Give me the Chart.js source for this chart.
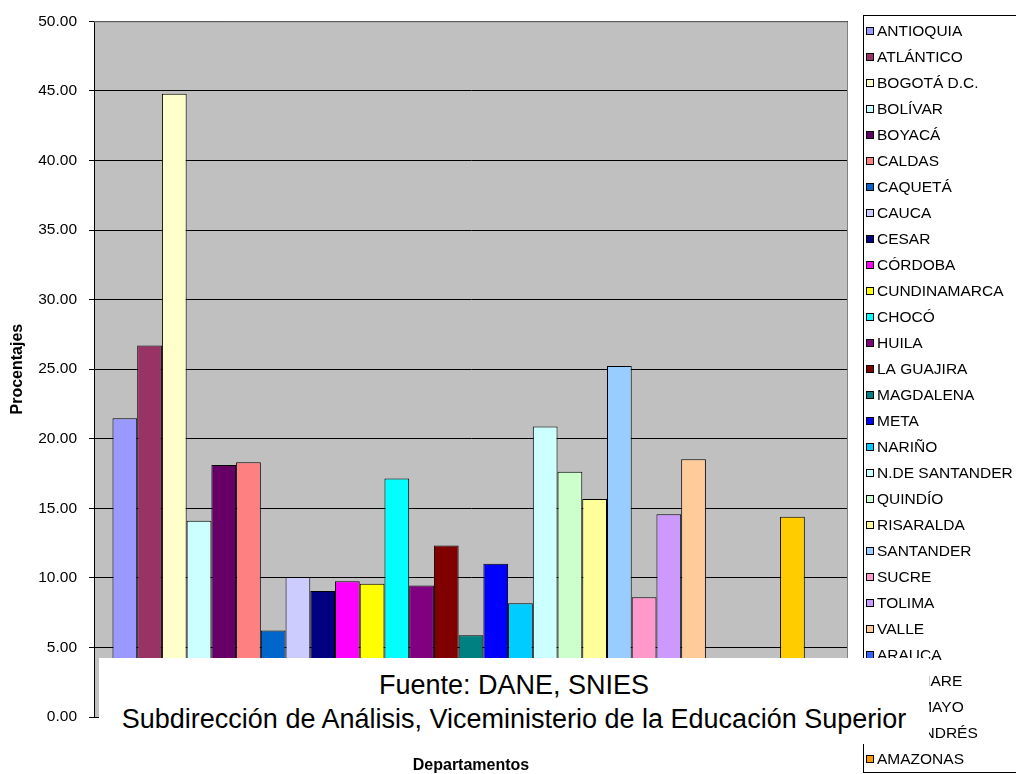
<!DOCTYPE html>
<html>
<head>
<meta charset="utf-8">
<script src="https://cdn.jsdelivr.net/npm/chart.js@4.4.0/dist/chart.umd.min.js"></script>
<style>
    html, body { margin: 0; padding: 0; background: #fff; }
    #wrap { position: relative; width: 1016px; height: 774px; }
    #fuente {
        position: absolute; left: 99px; top: 658px; width: 830px; height: 86px;
        background: #fff; text-align: center; color: #000;
        font-family: Arial, 'Liberation Sans', sans-serif; font-size: 27px;
        line-height: 34px; padding-top: 0; box-sizing: border-box;
        padding-top: 10px;
    }
</style>
</head>
<body>
<div id="wrap">
    <canvas id="grafico" width="1016" height="774"></canvas>
    <div id="fuente">Fuente: DANE, SNIES<br>Subdirección de Análisis, Viceministerio de la Educación Superior</div>
</div>
<script>
const departamentos = ['ANTIOQUIA', 'ATLÁNTICO', 'BOGOTÁ D.C.', 'BOLÍVAR', 'BOYACÁ', 'CALDAS',
    'CAQUETÁ', 'CAUCA', 'CESAR', 'CÓRDOBA', 'CUNDINAMARCA', 'CHOCÓ', 'HUILA', 'LA GUAJIRA',
    'MAGDALENA', 'META', 'NARIÑO', 'N.DE SANTANDER', 'QUINDÍO', 'RISARALDA', 'SANTANDER',
    'SUCRE', 'TOLIMA', 'VALLE', 'ARAUCA', 'CASANARE', 'PUTUMAYO', 'SAN ANDRÉS', 'AMAZONAS']

// los ultimos quedan tapados por el cuadro de la fuente, valores estimados
const porcentajes = [21.47, 26.7, 44.8, 14.1, 18.12, 18.31,
    6.22, 10.07, 9.06, 9.76, 9.57, 17.14, 9.45, 12.32,
    5.88, 11.02, 8.18, 20.87, 17.62, 15.66, 25.22,
    8.6, 14.58, 18.53, 3.2, 2.6, 1.9, 14.4, 3.5]

const colores = ['#9999FF', '#993366', '#FFFFCC', '#CCFFFF', '#660066', '#FF8080',
    '#0066CC', '#CCCCFF', '#000080', '#FF00FF', '#FFFF00', '#00FFFF', '#800080', '#800000',
    '#008080', '#0000FF', '#00CCFF', '#CCFFFF', '#CCFFCC', '#FFFF99', '#99CCFF',
    '#FF99CC', '#CC99FF', '#FFCC99', '#3366FF', '#33CCCC', '#99CC00', '#FFCC00', '#FF9900']

const yMin = 0
const yMax = 50
const yPaso = 5

const fuente = "Arial, 'Liberation Sans', sans-serif"

// fondo gris del area de trazado
const fondoPlot = {
    id: 'fondoPlot',
    beforeDraw(chart) {
        const {ctx, chartArea: a} = chart
        ctx.save()
        ctx.fillStyle = '#fff'
        ctx.fillRect(0, 0, chart.width, chart.height)
        ctx.fillStyle = '#C0C0C0'
        ctx.fillRect(a.left, a.top, a.right - a.left, a.bottom - a.top)
        ctx.restore()
    },
    afterDatasetsDraw(chart) {
        const {ctx, chartArea: a} = chart
        ctx.save()
        ctx.strokeStyle = '#808080'
        ctx.lineWidth = 1
        ctx.beginPath()
        ctx.moveTo(a.left, a.top + 0.5)
        ctx.lineTo(a.right - 0.5, a.top + 0.5)
        ctx.lineTo(a.right - 0.5, a.bottom)
        ctx.stroke()
        ctx.restore()
    }
}

// leyenda con recuadro como en Excel
const leyenda = {
    id: 'leyenda',
    afterDraw(chart) {
        const ctx = chart.ctx
        ctx.save()
        ctx.fillStyle = '#fff'
        ctx.fillRect(863, 15, 160, 758)
        ctx.strokeStyle = '#000'
        ctx.lineWidth = 1
        ctx.strokeRect(863.5, 15.5, 200, 757)
        ctx.font = '15.5px ' + fuente
        ctx.textBaseline = 'middle'
        chart.data.datasets.forEach(function (ds, i) {
            let y = 30.5 + i * 26
            ctx.fillStyle = ds.backgroundColor
            ctx.fillRect(866, Math.round(y) - 4, 8, 8)
            ctx.strokeStyle = '#000'
            ctx.strokeRect(866.5, Math.round(y) - 3.5, 7, 7)
            ctx.fillStyle = '#000'
            ctx.fillText(ds.label, 877, y + 1)
        })
        ctx.restore()
    }
}

let datasets = departamentos.map(function (d, i) {
    return {
        label: d,
        data: [porcentajes[i]],
        backgroundColor: colores[i],
        borderColor: '#000',
        borderWidth: 1,
        borderSkipped: false,
        categoryPercentage: 0.951,
        barPercentage: 1
    }
})

let canvas = document.getElementById('grafico').getContext('2d')
var chart = new Chart(canvas, {
    type: 'bar',
    data: {
        labels: [''],
        datasets: datasets
    },
    options: {
        responsive: false,
        animation: false,
        layout: {
            padding: {top: 20, right: 168, bottom: 0, left: 0}
        },
        plugins: {
            legend: {display: false},
            tooltip: {enabled: false}
        },
        scales: {
            x: {
                grid: {display: false},
                border: {display: true, color: '#000', width: 1},
                ticks: {display: false},
                title: {
                    display: true,
                    text: 'Departamentos',
                    color: '#000',
                    font: {family: fuente, size: 16, weight: 'bold', lineHeight: 1},
                    padding: 0
                },
                afterFit: function (scale) {
                    scale.height = 57
                }
            },
            y: {
                min: yMin,
                max: yMax,
                ticks: {
                    stepSize: yPaso,
                    color: '#000',
                    padding: 12,
                    font: {family: fuente, size: 15.5},
                    callback: function (v) { return v.toFixed(2) }
                },
                grid: {color: '#000', lineWidth: 1, tickLength: 5},
                border: {display: true, color: '#000', width: 1},
                title: {
                    display: true,
                    text: 'Procentajes',
                    color: '#000',
                    font: {family: fuente, size: 16, weight: 'bold', lineHeight: 1},
                    padding: {top: 10, bottom: 0}
                },
                afterFit: function (scale) {
                    scale.width = 94
                }
            }
        }
    },
    plugins: [fondoPlot, leyenda]
})
</script>
</body>
</html>
